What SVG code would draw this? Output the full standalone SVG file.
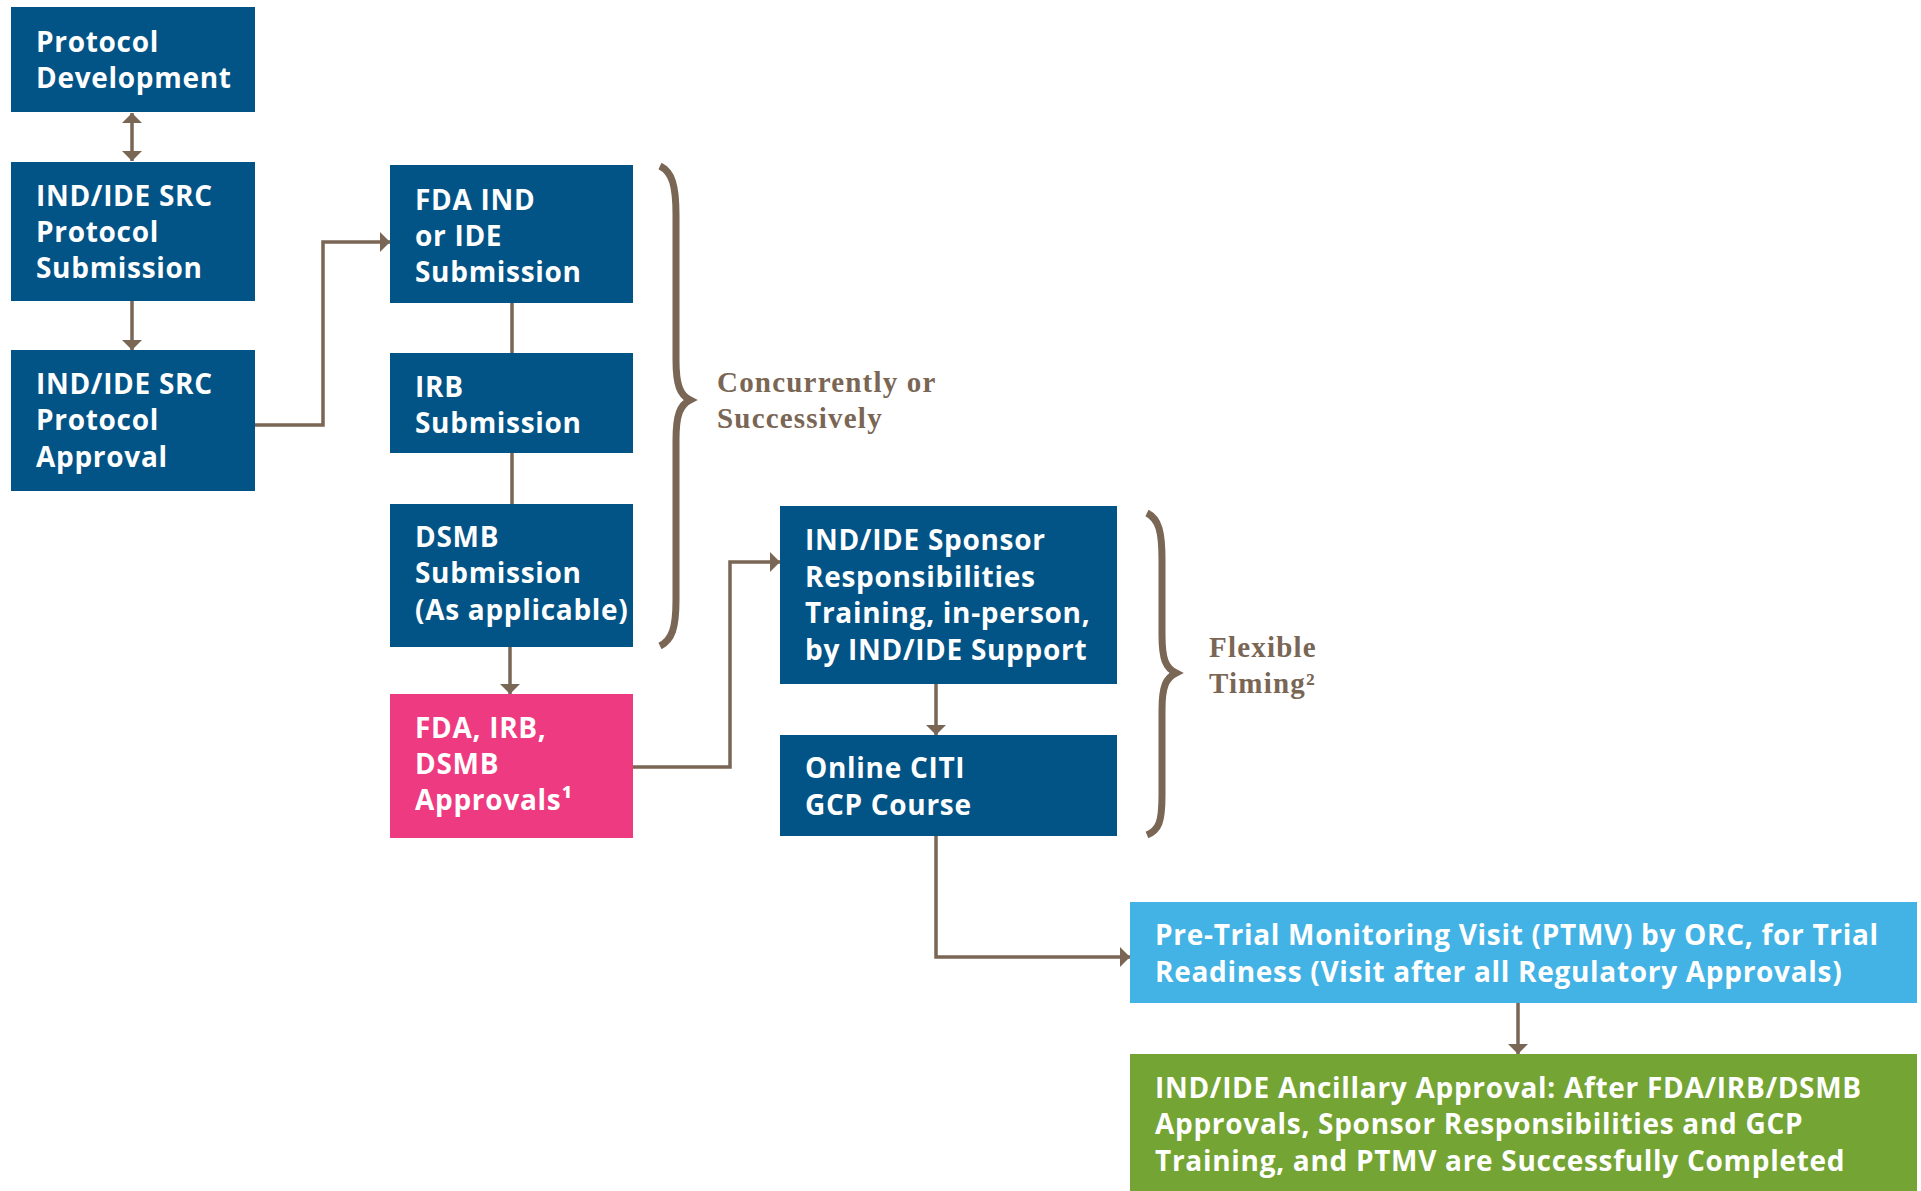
<svg xmlns="http://www.w3.org/2000/svg" width="1921" height="1191" viewBox="0 0 1921 1191">
<style>
.box{fill:#025487}
.pink{fill:#EE3A80}
.lblue{fill:#43B3E5}
.green{fill:#74A433}
.t{font-family:"Open Sans","Liberation Sans",sans-serif;font-weight:700;font-size:28px;letter-spacing:0.7px;fill:#fff}
.s{font-family:"Liberation Serif","Times New Roman",serif;font-weight:700;font-size:29px;letter-spacing:1.2px;fill:#7A6654}
.c{stroke:#7A6654;stroke-width:3.5;fill:none}
.br{stroke:#7A6654;stroke-width:7;fill:none;stroke-linecap:butt}
</style>
<defs>
<marker id="ah" markerUnits="userSpaceOnUse" markerWidth="12" markerHeight="22" refX="10" refY="10" orient="auto-start-reverse">
<path d="M0,0 L10,10 L0,20 z" fill="#7A6654"/>
</marker>
</defs>
<rect width="1921" height="1191" fill="#fff"/>
<g id="connectors">
<line class="c" x1="132" y1="113" x2="132" y2="161" marker-start="url(#ah)" marker-end="url(#ah)"/>
<line class="c" x1="132" y1="301" x2="132" y2="350" marker-end="url(#ah)"/>
<path class="c" d="M255,425 H323 V242 H390" marker-end="url(#ah)"/>
<line class="c" x1="512" y1="303" x2="512" y2="353"/>
<line class="c" x1="512" y1="453" x2="512" y2="504"/>
<line class="c" x1="510" y1="647" x2="510" y2="694" marker-end="url(#ah)"/>
<path class="c" d="M633,767 H730 V562 H780" marker-end="url(#ah)"/>
<line class="c" x1="936" y1="684" x2="936" y2="735" marker-end="url(#ah)"/>
<path class="c" d="M936,836 V957 H1130" marker-end="url(#ah)"/>
<line class="c" x1="1518" y1="1003" x2="1518" y2="1054" marker-end="url(#ah)"/>
</g>
<g id="brace-concurrently">
<path class="br" d="M660,166 C672,172 676,185 676,215 L676,360 C676,385 680,395 690,400 C680,405 676,415 676,440 L676,600 C676,628 672,640 660,646"/>
<text class="s" x="717" y="392">Concurrently or</text>
<text class="s" x="717" y="428">Successively</text>
</g>
<g id="brace-flexible">
<path class="br" d="M1147,513 C1159,519 1162,532 1162,560 L1162,635 C1162,660 1166,668 1176,673 C1166,678 1162,686 1162,710 L1162,795 C1162,822 1159,830 1147,835"/>
<text class="s" x="1209" y="657">Flexible</text>
<text class="s" x="1209" y="693">Timing²</text>
</g>
<g id="protocol-development">
<rect class="box" x="11" y="7" width="244" height="105"/>
<text class="t" x="36" y="52">Protocol</text>
<text class="t" x="36" y="88">Development</text>
</g>
<g id="src-submission">
<rect class="box" x="11" y="162" width="244" height="139"/>
<text class="t" x="36" y="206">IND/IDE SRC</text>
<text class="t" x="36" y="242">Protocol</text>
<text class="t" x="36" y="278">Submission</text>
</g>
<g id="src-approval">
<rect class="box" x="11" y="350" width="244" height="141"/>
<text class="t" x="36" y="394">IND/IDE SRC</text>
<text class="t" x="36" y="430">Protocol</text>
<text class="t" x="36" y="467">Approval</text>
</g>
<g id="fda-submission">
<rect class="box" x="390" y="165" width="243" height="138"/>
<text class="t" x="415" y="210">FDA IND</text>
<text class="t" x="415" y="246">or IDE</text>
<text class="t" x="415" y="282">Submission</text>
</g>
<g id="irb-submission">
<rect class="box" x="390" y="353" width="243" height="100"/>
<text class="t" x="415" y="397">IRB</text>
<text class="t" x="415" y="433">Submission</text>
</g>
<g id="dsmb-submission">
<rect class="box" x="390" y="504" width="243" height="143"/>
<text class="t" x="415" y="547">DSMB</text>
<text class="t" x="415" y="583">Submission</text>
<text class="t" x="415" y="620">(As applicable)</text>
</g>
<g id="approvals">
<rect class="pink" x="390" y="694" width="243" height="144"/>
<text class="t" x="415" y="738">FDA, IRB,</text>
<text class="t" x="415" y="774">DSMB</text>
<text class="t" x="415" y="810">Approvals¹</text>
</g>
<g id="sponsor-training">
<rect class="box" x="780" y="506" width="337" height="178"/>
<text class="t" x="805" y="550">IND/IDE Sponsor</text>
<text class="t" x="805" y="587">Responsibilities</text>
<text class="t" x="805" y="623">Training, in-person,</text>
<text class="t" x="805" y="660">by IND/IDE Support</text>
</g>
<g id="citi-course">
<rect class="box" x="780" y="735" width="337" height="101"/>
<text class="t" x="805" y="778">Online CITI</text>
<text class="t" x="805" y="815">GCP Course</text>
</g>
<g id="ptmv">
<rect class="lblue" x="1130" y="902" width="787" height="101"/>
<text class="t" x="1155" y="945">Pre-Trial Monitoring Visit (PTMV) by ORC, for Trial</text>
<text class="t" x="1155" y="982">Readiness (Visit after all Regulatory Approvals)</text>
</g>
<g id="ancillary-approval">
<rect class="green" x="1130" y="1054" width="787" height="137"/>
<text class="t" x="1155" y="1098">IND/IDE Ancillary Approval: After FDA/IRB/DSMB</text>
<text class="t" x="1155" y="1134">Approvals, Sponsor Responsibilities and GCP</text>
<text class="t" x="1155" y="1171">Training, and PTMV are Successfully Completed</text>
</g>
</svg>
